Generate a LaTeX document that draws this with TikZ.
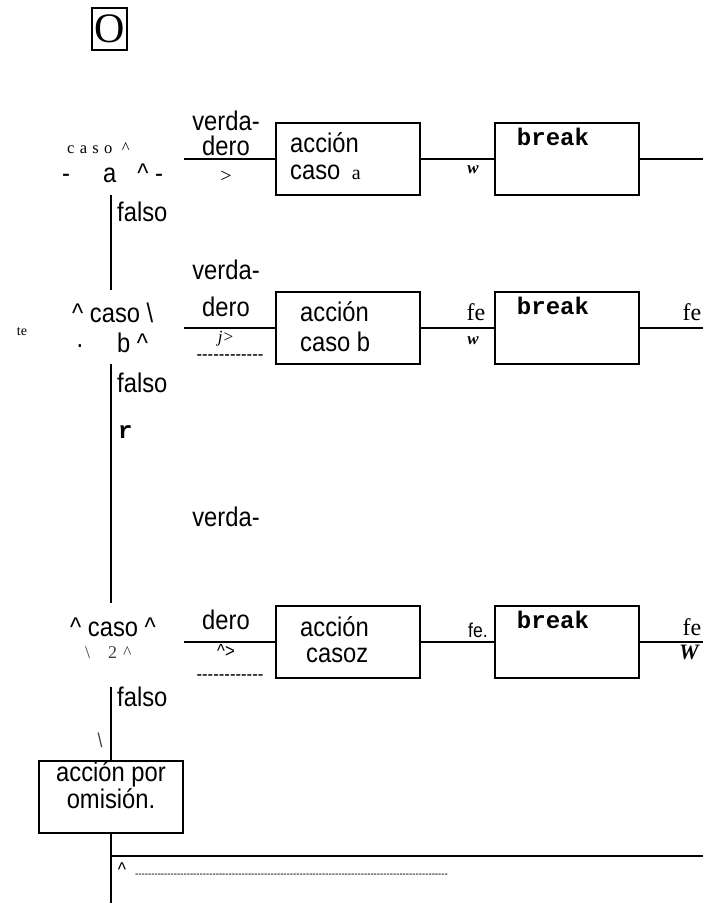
\documentclass[tikz,border=0pt]{standalone}
\usepackage{fontspec}
\setmainfont{Liberation Sans}[FakeStretch=0.88]
\newfontfamily\srf{Liberation Serif}
\newfontfamily\srfls[LetterSpace=32]{Liberation Serif}
\newfontfamily\mon{Liberation Mono}
\newcommand\fsz[1]{\fontsize{#1}{#1}\selectfont}
\newcommand\hyphs[1]{\foreach \i in {1,...,#1}{-}}
\begin{document}
\begin{tikzpicture}[x=1pt,y=-1pt,
  ln/.style={line width=2pt},
  box/.style={draw,line width=2pt,inner sep=0,minimum width=144pt,minimum height=72pt},
  t/.style={inner sep=0,font=\fsz{27}},
  ts/.style={inner sep=0,font=\srf\fsz{24}},
  brk/.style={inner sep=0,font=\mon\bfseries\fsz{24}},
  bw/.style={inner sep=0,font=\srf\bfseries\itshape\fsz{17}},
  dsh/.style={inner sep=0,font=\fsz{19}},
]
\useasboundingbox (0,0) rectangle (703,905);

% title box
\node[draw,line width=1.5pt,inner sep=0,minimum width=35pt,minimum height=42pt,font=\srf\fsz{42}] (O) at (109.5,29) {O};

% ---------- row 1 ----------
\node[inner sep=0,font=\srfls\fsz{16.5},anchor=west] (c1a) at (67,148) {caso \textasciicircum};
\node[t,anchor=west] (c1b) at (62,173) {-\hspace{33pt}a\hspace{21pt}\textasciicircum{} -};
\node[t,anchor=west] (f1) at (117,212) {falso};
\node[t] (v1a) at (226,121) {verda-};
\node[t] (v1b) at (226,146) {dero};
\node[inner sep=0,font=\srf\fsz{20}] (g1) at (226,177) {>};
\node[box] (aa) at (348,158.5) {};
\node[t,anchor=west] (aa1) at (290,143) {acción};
\node[t,anchor=west] (aa2) at (290,172) {caso {\srf\fsz{20} a}};
\node[bw] (w1) at (473,170) {w};
\node[box] (ba) at (567,158.5) {};
\node[brk] (b1) at (553,137) {break};

% ---------- row 2 ----------
\node[inner sep=0,font=\srf\fsz{14}] (te) at (22,332) {te};
\node[t,anchor=west] (c2a) at (72,313) {\textasciicircum{} caso \textbackslash};
\node[t] (dot) at (80,346) {.};
\node[t,anchor=west] (c2b) at (117,343) {b \textasciicircum};
\node[t,anchor=west] (f2) at (117,383) {falso};
\node[brk,anchor=west] (r) at (118,432) {r};
\node[t] (v2a) at (226,270) {verda-};
\node[t] (v2b) at (226,307) {dero};
\node[inner sep=0,font=\srf\itshape\fsz{17}] (g2) at (226,339) {j>};
\node[dsh] (d2) at (230,358) {\hyphs{12}};
\node[box] (ab) at (348,328) {};
\node[t,anchor=west] (ab1) at (300,312) {acción};
\node[t,anchor=west] (ab2) at (300,342) {caso b};
\node[ts] (fe2a) at (476,312) {fe};
\node[bw] (w2) at (473,341) {w};
\node[box] (bb) at (567,328) {};
\node[brk] (b2) at (553,306) {break};
\node[ts] (fe2b) at (692,312) {fe};

% ---------- row 3 ----------
\node[t] (v3a) at (226,517) {verda-};
\node[t,anchor=west] (c3a) at (70,627) {\textasciicircum{} caso \textasciicircum};
\node[inner sep=0,font=\srf\fsz{18},anchor=west,text=black!75] (c3b) at (85,653) {\textbackslash\hspace{18pt}2\hspace{6pt}\textasciicircum};
\node[t] (v3b) at (226,620) {dero};
\node[inner sep=0,font=\fsz{19}] (g3) at (226,651) {\textasciicircum>};
\node[dsh] (d3) at (230,678) {\hyphs{12}};
\node[box] (ac) at (348,642) {};
\node[t,anchor=west] (ac1) at (300,627) {acción};
\node[t,anchor=west] (ac2) at (306,655) {casoz};
\node[inner sep=0,font=\fsz{20}] (fe3a) at (478,630) {fe.};
\node[box] (bc) at (567,642) {};
\node[brk] (b3) at (553,620) {break};
\node[ts] (fe3b) at (692,627) {fe};
\node[inner sep=0,font=\srf\bfseries\itshape\fsz{22}] (W3) at (689,652) {W};

% ---------- default ----------
\node[t,anchor=west] (f3) at (117,697) {falso};
\node[inner sep=0,font=\fsz{20},text=black!75] (bs) at (100,740) {\textbackslash};
\node[box] (df) at (111,797) {};
\node[t] (df1) at (111,774) {acción por};
\node[t] (df2) at (111,799) {omisión.};
\node[inner sep=0,font=\fsz{20}] (hat) at (122,870) {\textasciicircum};
\node[inner sep=0,font=\fsz{11},anchor=west] (d4) at (135,876) {\hyphs{97}};

% ---------- connectors ----------
\coordinate (s1) at (111,195);
\coordinate (n2) at (111,290);
\coordinate (s2) at (111,364);
\coordinate (n3) at (111,603);
\coordinate (s3) at (111,687);
\coordinate (e0) at (111,903);
\coordinate (h1) at (184,158.5);
\coordinate (h2) at (184,328);
\coordinate (h3) at (184,642);
\coordinate (r1) at (703,158.5);
\coordinate (r2) at (703,328);
\coordinate (r3) at (703,642);
\coordinate (j0) at (111,856);
\coordinate (j1) at (703,856);

\draw[ln] (s1) -- (n2);
\draw[ln] (s2) -- (n3);
\draw[ln] (s3) -- (df.north);
\draw[ln] (df.south) -- (e0);
\draw[ln] (j0) -- (j1);
\draw[ln] (h1) -- (aa.west);
\draw[ln] (aa.east) -- (ba.west);
\draw[ln] (ba.east) -- (r1);
\draw[ln] (h2) -- (ab.west);
\draw[ln] (ab.east) -- (bb.west);
\draw[ln] (bb.east) -- (r2);
\draw[ln] (h3) -- (ac.west);
\draw[ln] (ac.east) -- (bc.west);
\draw[ln] (bc.east) -- (r3);
\end{tikzpicture}
\end{document}
